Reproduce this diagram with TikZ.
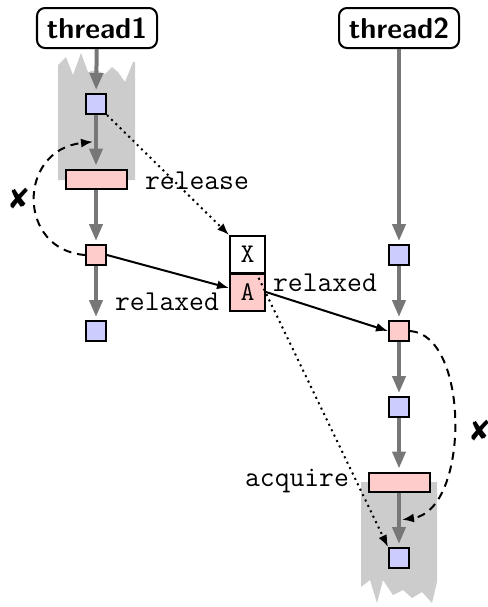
\documentclass[tikz,border=0pt]{standalone}
\usepackage{pifont}
\usetikzlibrary{arrows.meta,calc}
\definecolor{evblue}{RGB}{204,204,255}
\definecolor{evpink}{RGB}{255,204,204}
\definecolor{tgray}{RGB}{119,119,119}
\definecolor{torn}{RGB}{204,204,204}
\begin{document}
\begin{tikzpicture}[x=0.5pt,y=-0.5pt,
  thr/.style={draw, rounded corners=4pt, line width=1pt, minimum width=60pt, minimum height=20pt, inner sep=0pt, font=\Large\bfseries\sffamily},
  ev/.style={draw, line width=1pt, minimum size=10pt, inner sep=0pt},
  bev/.style={ev, fill=evblue},
  pev/.style={ev, fill=evpink},
  barbox/.style={draw, line width=1pt, fill=evpink, minimum width=30.5pt, minimum height=9.5pt, inner sep=0pt},
  cell/.style={draw, line width=1pt, minimum width=17.5pt, minimum height=18.5pt, inner sep=0pt, font=\fontsize{13.5}{15}\selectfont\ttfamily},
  lbl/.style={font=\Large\ttfamily, inner sep=0pt},
  po/.style={draw=tgray, line width=2pt, -{Triangle[length=8.5pt,width=6.5pt]}, shorten >=1.5pt},
  rf/.style={draw, line width=1pt, -{Latex[length=6pt,width=4.5pt]}},
  sw/.style={draw, dotted, line width=1pt, -{Latex[length=6pt,width=4.5pt]}},
  nope/.style={draw, dash pattern=on 4pt off 3pt, line width=1pt, -{Latex[length=6pt,width=4.5pt]}},
  xmark/.style={font=\Large, inner sep=0pt}]
\useasboundingbox (0,0) rectangle (488,607);
% torn grey regions
\fill[torn] (58,180) -- (58,65) -- (66,57) -- (73,75) -- (81,53) -- (88,72) -- (96,70) -- (105,74) -- (112,67) -- (118,72) -- (125,82) -- (133,62) -- (135,62) -- (135,180) -- cycle;
\fill[torn] (361,482) -- (437,482) -- (437,582) -- (432,603) -- (422,592) -- (412,598) -- (403,590) -- (393,595) -- (383,580) -- (377,603) -- (370,580) -- (361,587) -- cycle;
% threads
\node[thr] (t1) at (97,28) {thread1};
\node[thr] (t2) at (399,28) {thread2};
% thread 1 events
\node[bev] (b1) at (96,104) {};
\node[barbox] (r1) at (96,179) {};
\node[pev] (p1) at (96,255) {};
\node[bev] (b2) at (96,331) {};
% memory location
\node[cell] (X) at (247.5,254.5) {X};
\node[cell, fill=evpink] (A) at (247.5,292) {A};
% thread 2 events
\node[bev] (q1) at (399,255) {};
\node[pev] (q2) at (399,331) {};
\node[bev] (q3) at (399,407) {};
\node[barbox] (r2) at (399,482) {};
\node[bev] (q4) at (399,558) {};
% labels
\node[lbl] (lrel) at (197,181) {release};
\node[lbl] (lrx1) at (167,302) {relaxed};
\node[lbl] (lrx2) at (325,283) {relaxed};
\node[lbl] (lacq) at (297,481) {acquire};
\node[xmark] (x1) at (19,198) {\ding{56}};
\node[xmark] (x2) at (480,430) {\ding{56}};
% program order
\draw[po] (t1) -- (b1);
\draw[po] (b1) -- (r1);
\draw[po] (r1) -- (p1);
\draw[po] (p1) -- (b2);
\draw[po] (t2) -- (q1);
\draw[po] (q1) -- (q2);
\draw[po] (q2) -- (q3);
\draw[po] (q3) -- (r2);
\draw[po] (r2) -- (q4);
% reads / writes
\draw[rf] (p1.east) -- ([yshift=2pt]A.west);
\draw[rf] (A.east) -- (q2.west);
% synchronises-with
\draw[sw] (b1.south east) -- (X.north west);
\draw[sw] ([xshift=-5pt]A.north east) -- (q4.north west);
% forbidden
\coordinate (m1) at ($(b1.south)!0.5!(r1.north)$);
\coordinate (m2) at ($(r2.south)!0.5!(q4.north)$);
\draw[nope] (p1.west) .. controls (17,250) and (17,150) .. ([xshift=-1.5pt]m1);
\draw[nope] (q2.east) .. controls (470,335) and (470,510) .. ([xshift=1.5pt]m2);
\end{tikzpicture}
\end{document}
